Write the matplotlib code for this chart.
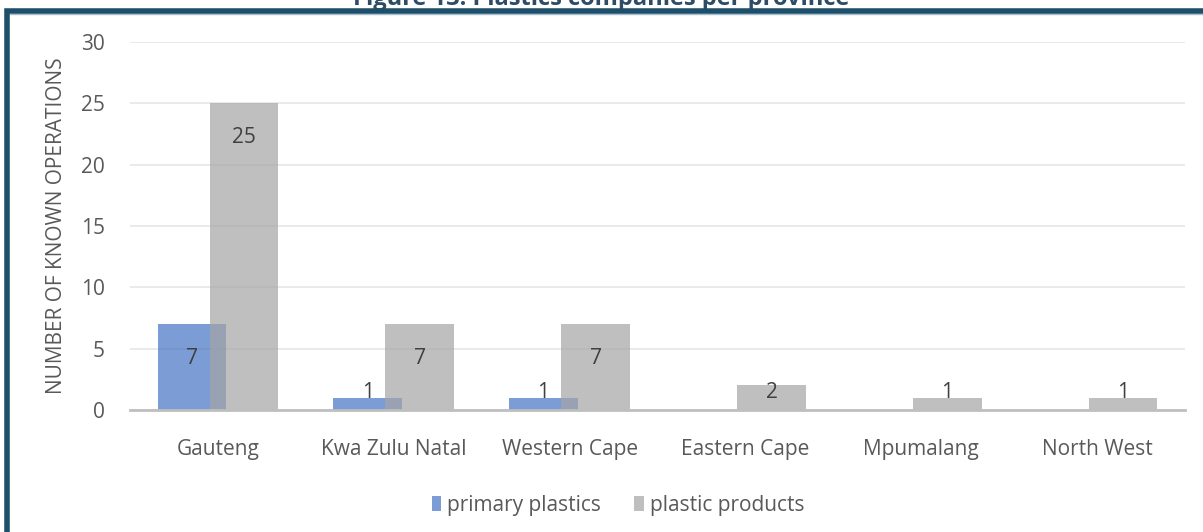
import matplotlib
matplotlib.use('Agg')
import matplotlib.pyplot as plt
from matplotlib.patches import Rectangle
import numpy as np

provinces = ['Gauteng', 'Kwa Zulu Natal', 'Western Cape', 'Eastern Cape', 'Mpumalang', 'North West']
primary = [7, 1, 1, 0, 0, 0]
products = [25, 7, 7, 2, 1, 1]
series_names = ['primary plastics', 'plastic products']
yticks = [0, 5, 10, 15, 20, 25, 30]

BLUE = '#4472C4'
GRAY = '#A5A5A5'
TXT = '#595959'
FS = 15

plt.rcParams['font.family'] = ['Open Sans', 'DejaVu Sans']
plt.rcParams['font.size'] = FS

W, H = 1203, 532
fig = plt.figure(figsize=(W / 100, H / 100), dpi=100)
ax = fig.add_axes([130 / W, 1 - 410 / H, 1055 / W, 368 / H])

x = np.arange(len(provinces))
bw = 0.39
off = 0.148
b1 = ax.bar(x - off, primary, bw, color=BLUE, alpha=0.7, zorder=3, label=series_names[0], linewidth=0)
b2 = ax.bar(x + off, products, bw, color=GRAY, alpha=0.7, zorder=4, label=series_names[1], linewidth=0)

# value labels
for xs, vals in ((x - off, primary), (x + off, products)):
    for xi, v in zip(xs, vals):
        if v == 0:
            continue
        yy = v - 2.8 if v >= 5 else 1.4
        ax.text(xi, yy, str(v), ha='center', va='center', fontsize=FS, color='#404040', zorder=6)

ax.set_xlim(-0.5, len(provinces) - 0.5)
ax.set_ylim(0, 30)
ax.set_yticks(yticks)
ax.set_xticks(x)
ax.set_xticklabels(provinces)
ax.tick_params(axis='both', length=0, colors=TXT, labelsize=FS)
ax.tick_params(axis='y', pad=18)
ax.tick_params(axis='x', pad=21)
ax.grid(axis='y', color='#E6E6E6', linewidth=1.2, zorder=0)
for s in ['top', 'right', 'left']:
    ax.spines[s].set_visible(False)
ax.spines['bottom'].set_color('#BFBFBF')
ax.spines['bottom'].set_linewidth(2)
ax.spines['bottom'].set_zorder(5)

ax.set_ylabel('NUMBER OF KNOWN OPERATIONS', color=TXT, fontsize=FS)
ax.yaxis.set_label_coords(-(130 - 67) / 1055, 0.5)

fig.legend(handles=[b1, b2], labels=series_names, loc='center', ncol=2,
           bbox_to_anchor=(618 / W, 1 - 505 / H), frameon=False,
           handlelength=0.45, handleheight=0.75, handletextpad=0.3, columnspacing=1.6,
           fontsize=FS, labelcolor=TXT)

# frame around the chart (top and left edge visible)
fig.patches.append(Rectangle((7 / W, -0.1), 1.2, 1 - 11 / H + 0.1, transform=fig.transFigure,
                             fill=False, edgecolor='#1D4F6B', linewidth=4, zorder=10))
fig.add_artist(plt.Line2D([10 / W, 1], [1 - 14 / H, 1 - 14 / H], transform=fig.transFigure,
                          color='#A9BFCD', linewidth=1))

fig.text(0.5, 1 - 5 / H, 'Figure 13: Plastics companies per province', ha='center', va='baseline',
         fontsize=17, fontweight='bold', color='#2E4C66')

fig.savefig('out.png', dpi=100)
